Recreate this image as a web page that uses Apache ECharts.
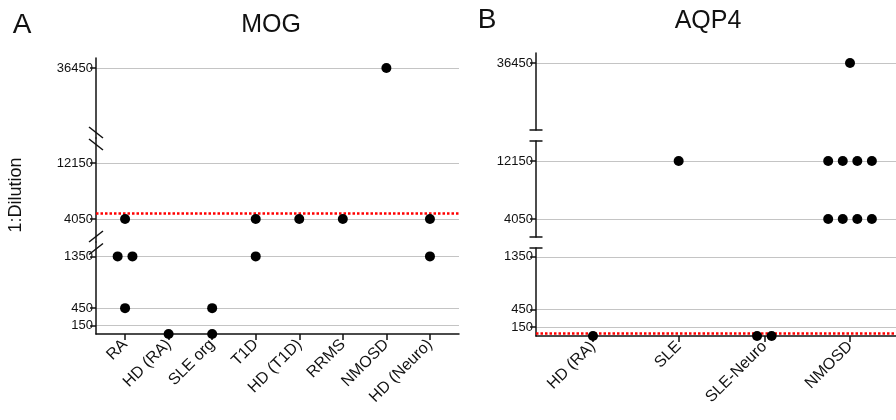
<!DOCTYPE html>
<html>
<head>
<meta charset="utf-8">
<script src="https://cdn.jsdelivr.net/npm/echarts@6/dist/echarts.min.js"></script>
<style>
  html, body { margin: 0; padding: 0; background: #fff; }
  #chart { width: 896px; height: 420px; }
</style>
</head>
<body>
<div id="chart"></div>
<script>
// MOG / AQP4 titers on a segmented (broken) y axis, one grid per segment.
const mogCategories = ['RA', 'HD (RA)', 'SLE org', 'T1D', 'HD (T1D)', 'RRMS', 'NMOSD', 'HD (Neuro)'];
const mogGroup  = [0, 0, 0, 0, 1, 2, 2, 3, 3, 4, 5, 6, 7, 7];
const mogJitter = [0, -0.17, 0.17, 0, 0, 0, 0, 0, 0, 0, 0, 0, 0, 0];
const mogTiter  = [4050, 1350, 1350, 450, 0, 450, 0, 4050, 1350, 4050, 4050, 36450, 4050, 1350];
const mogCutoff = 4900;

const aqpCategories = ['HD (RA)', 'SLE', 'SLE-Neuro', 'NMOSD'];
const aqpGroup  = [0, 1, 2, 2, 3, 3, 3, 3, 3, 3, 3, 3, 3];
const aqpJitter = [0, 0, -0.085, 0.085, 0, -0.255, -0.085, 0.085, 0.255, -0.255, -0.085, 0.085, 0.255];
const aqpTiter  = [0, 12150, 0, 0, 36450, 12150, 12150, 12150, 12150, 4050, 4050, 4050, 4050];
const aqpCutoff = 45;

const lowTicks  = [150, 450, 1350];
const midTicks  = [4050, 12150];
const highTicks = [36450];

// segment value ranges [min, max], bottom to top
const mogRanges = [[0, 1600], [720, 15770], [25600, 38000]];
const aqpRanges = [[0, 1500], [1536, 14943], [26000, 38000]];

const FONT = 'Liberation Sans, Arial, sans-serif';
const INK = '#111';

const panels = [
    {
        cats: mogCategories, group: mogGroup, jitter: mogJitter, titer: mogTiter,
        cutoff: mogCutoff, cutSeg: 1, ranges: mogRanges,
        left: 96, right: 437, xMin: -0.667, xMax: 7.667, caps: false,
        px: [[242, 334], [138, 242], [58, 138]]
    },
    {
        cats: aqpCategories, group: aqpGroup, jitter: aqpJitter, titer: aqpTiter,
        cutoff: aqpCutoff, cutSeg: 0, ranges: aqpRanges,
        left: 536, right: -11, xMin: -0.665, xMax: 3.665, caps: true,
        px: [[248, 336], [141, 237], [53, 130]]
    }
];
const segTicks = [lowTicks, midTicks, highTicks];

// which segment a titer belongs to
const segOf = (t, ranges) => (t <= ranges[0][1] ? 0 : (t <= ranges[1][1] ? 1 : 2));

const grid = [], xAxis = [], yAxis = [], series = [];

panels.forEach(p => {
    const idx = p.cats.map((c, i) => i);
    p.px.forEach((span, s) => {
        const gi = grid.length;
        const [vmin, vmax] = p.ranges[s];
        grid.push({
            left: p.left, right: p.right, top: span[0], height: span[1] - span[0],
            outerBoundsMode: 'none'
        });
        const bottom = s === 0;
        xAxis.push({
            type: 'value', gridIndex: gi, min: p.xMin, max: p.xMax,
            show: bottom,
            axisLine: { show: true, onZero: false, lineStyle: { color: INK, width: 1.5 } },
            axisTick: { show: true, customValues: idx, length: 6, lineStyle: { color: INK, width: 1.5 } },
            axisLabel: {
                customValues: idx, rotate: 45, margin: 8,
                fontSize: 16, fontFamily: FONT, color: INK,
                formatter: v => p.cats[Math.round(v)]
            },
            splitLine: { show: false }
        });
        let sym = ['none', 'none'];
        if (p.caps) sym = s === 0 ? ['none', 'rect'] : (s === 1 ? ['rect', 'rect'] : ['rect', 'none']);
        yAxis.push({
            type: 'value', gridIndex: gi, min: vmin, max: vmax,
            axisLine: {
                show: true, onZero: false, symbol: sym, symbolSize: [13, 1.5],
                lineStyle: { color: INK, width: 1.5 }
            },
            axisTick: { show: true, customValues: segTicks[s], length: 6, lineStyle: { color: INK, width: 1.5 } },
            axisLabel: {
                customValues: segTicks[s], margin: 3, fontSize: 13, fontFamily: FONT, color: INK,
                formatter: v => String(v)
            },
            splitLine: { show: true, lineStyle: { color: '#c4c4c4', width: 1 } }
        });
        const data = [];
        p.titer.forEach((t, i) => {
            if (segOf(t, p.ranges) === s) data.push([p.group[i] + p.jitter[i], t]);
        });
        const ser = {
            type: 'scatter', xAxisIndex: gi, yAxisIndex: gi,
            symbolSize: 10, itemStyle: { color: '#000', opacity: 1 },
            data: data, z: 3
        };
        if (s === p.cutSeg) {
            ser.markLine = {
                silent: true, symbol: 'none', z: 2,
                label: { show: false },
                lineStyle: { color: '#ff0000', type: [2.5, 2], width: 2.5, opacity: 1 },
                data: [{ yAxis: p.cutoff }]
            };
        }
        series.push(ser);
    });
});

// "//" break marks on the continuous MOG axis
const ax = 96;
const slash = (cx, cy, dir) => ({
    type: 'line', z: 10,
    shape: { x1: cx - 7, y1: cy - 5.5 * dir, x2: cx + 7, y2: cy + 5.5 * dir },
    style: { stroke: INK, lineWidth: 1.5 }
});
const txt = (text, x, y, size, extra) => Object.assign({
    type: 'text', x: x, y: y,
    style: { text: text, font: size + 'px ' + FONT, fill: '#111', align: 'center', verticalAlign: 'middle' }
}, extra || {});

const chart = echarts.init(document.getElementById('chart'));
chart.setOption({
    backgroundColor: '#fff',
    animation: false,
    grid, xAxis, yAxis, series,
    graphic: [
        slash(ax, 132.5, 1), slash(ax, 144.5, 1),
        slash(ax, 236.5, -1), slash(ax, 249, -1),
        txt('A', 22, 25, 28),
        txt('MOG', 271, 25, 25),
        txt('B', 487, 20, 28),
        txt('AQP4', 708, 21, 25),
        txt('1:Dilution', 16, 195, 18, { rotation: Math.PI / 2 })
    ]
});
</script>
</body>
</html>
